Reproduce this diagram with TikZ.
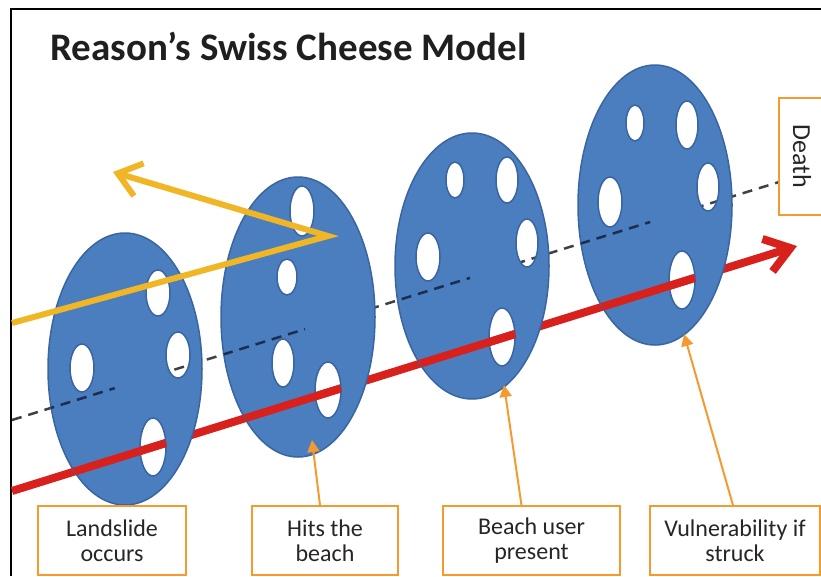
\documentclass[tikz,border=0pt]{standalone}
\usepackage{fontspec}
\setmainfont{Carlito}
\usetikzlibrary{arrows.meta,calc}
\definecolor{cheese}{HTML}{4A7EBF}
\definecolor{cheeseedge}{HTML}{3A65A0}
\definecolor{pathred}{HTML}{D8201C}
\definecolor{pathgold}{HTML}{F0B626}
\definecolor{callout}{HTML}{F59A2E}
\definecolor{navydash}{HTML}{1C2D50}
\tikzset{
  slice/.style={fill=cheese, draw=cheeseedge, line width=1.5, even odd rule},
  redline/.style={pathred, line width=8},
  dashline/.style={black!75, line width=2.5, dash pattern=on 10pt off 7pt},
  labelbox/.style={draw=callout, line width=1.5, fill=white, align=center,
    font=\fontsize{24}{25}\selectfont, text=black!85, minimum height=69, inner sep=0},
  pointer/.style={callout, line width=2, -{Triangle[length=12pt,width=12pt]}}
}
\begin{document}
\begin{tikzpicture}[x=1pt,y=-1pt]
	\useasboundingbox (0,0) rectangle (821,576);
	% frame and title
	\draw[line width=2.5] (11,576) -- (11,9) -- (821,9);
	\node[font=\fontsize{39}{40}\selectfont\bfseries, text=black!88, anchor=base west, inner sep=0] (title) at (50,60) {Reason’s Swiss Cheese Model};

	\coordinate (redA) at (12,491);
	\coordinate (redB) at (797,246);
	\coordinate (dashA) at (12,420);
	\coordinate (dashB) at (779,182);

	% lines behind the slices
	\draw[redline, -{Straight Barb[length=24pt,width=34pt]}] (redA) -- (redB);
	\draw[dashline] (dashA) -- (dashB);

	% slices
	\path[slice] (125,369) ellipse [x radius=77, y radius=136]
		(158,293) ellipse [x radius=12, y radius=23]
		(82,368) ellipse [x radius=12, y radius=24]
		(178,355) ellipse [x radius=12, y radius=23]
		(153,447) ellipse [x radius=13, y radius=29];
	\path[slice] (298,317) ellipse [x radius=77, y radius=140]
		(302,211) ellipse [x radius=12, y radius=25]
		(287,277) ellipse [x radius=10, y radius=18]
		(283,363) ellipse [x radius=11, y radius=24]
		(328,390) ellipse [x radius=13, y radius=28];
	\path[slice] (472,266) ellipse [x radius=77, y radius=133]
		(455,180) ellipse [x radius=9, y radius=18]
		(507,180) ellipse [x radius=11, y radius=23]
		(527,243) ellipse [x radius=11, y radius=24]
		(428,257) ellipse [x radius=12, y radius=24]
		(502,337) ellipse [x radius=13, y radius=29];
	\path[slice] (655,205) ellipse [x radius=77, y radius=140]
		(635,123) ellipse [x radius=9, y radius=18]
		(687,125) ellipse [x radius=11, y radius=24]
		(708,187) ellipse [x radius=11, y radius=24]
		(610,202) ellipse [x radius=12, y radius=25]
		(682,280) ellipse [x radius=13, y radius=29];

	% parts of the lines in front of each slice
	\begin{scope}
		\clip (125,369) ellipse [x radius=77, y radius=136];
		\draw[redline] (redA) -- ($(redA)!0.196!(redB)$);
		\draw[dashline, navydash] (dashA) -- ($(dashA)!0.134!(dashB)$);
	\end{scope}
	\begin{scope}
		\clip (298,317) ellipse [x radius=77, y radius=140];
		\draw[redline] (redA) -- ($(redA)!0.419!(redB)$);
		\draw[dashline, navydash] (dashA) -- ($(dashA)!0.382!(dashB)$);
	\end{scope}
	\begin{scope}
		\clip (472,266) ellipse [x radius=77, y radius=133];
		\draw[redline] (redA) -- ($(redA)!0.641!(redB)$);
		\draw[dashline, navydash] (dashA) -- ($(dashA)!0.597!(dashB)$);
	\end{scope}
	\begin{scope}
		\clip (655,205) ellipse [x radius=77, y radius=140];
		\draw[redline] (redA) -- ($(redA)!0.870!(redB)$);
		\draw[dashline, navydash] (dashA) -- ($(dashA)!0.832!(dashB)$);
	\end{scope}

	% reflected path
	\coordinate (goldA) at (12,323);
	\coordinate (goldB) at (328,236);
	\coordinate (goldC) at (113,172);
	\draw[pathgold, line width=6, line join=miter, -{Straight Barb[length=22pt,width=34pt]}] (goldA) -- (goldB) -- (goldC);

	% labels
	\node[labelbox, minimum width=148] (landslide) at (112,540.5) {Landslide\\occurs};
	\node[labelbox, minimum width=146] (hits) at (325,540.5) {Hits the\\beach};
	\node[labelbox, minimum width=177] (user) at (531.5,540.5) {Beach user\\present};
	\node[labelbox, minimum width=170] (vuln) at (735,540.5) {Vulnerability if\\struck};
	\node[labelbox, rotate=-90, minimum width=117, minimum height=46, font=\fontsize{26}{26}\selectfont] (death) at (802,156.5) {Death};

	\coordinate (hitsTip) at (312,440);
	\coordinate (userTip) at (504,385);
	\coordinate (vulnTip) at (684,334);
	\draw[pointer] ([xshift=-5pt]hits.north) -- (hitsTip);
	\draw[pointer] ([xshift=-10pt]user.north) -- (userTip);
	\draw[pointer] ([xshift=-2pt]vuln.north) -- (vulnTip);
\end{tikzpicture}
\end{document}
